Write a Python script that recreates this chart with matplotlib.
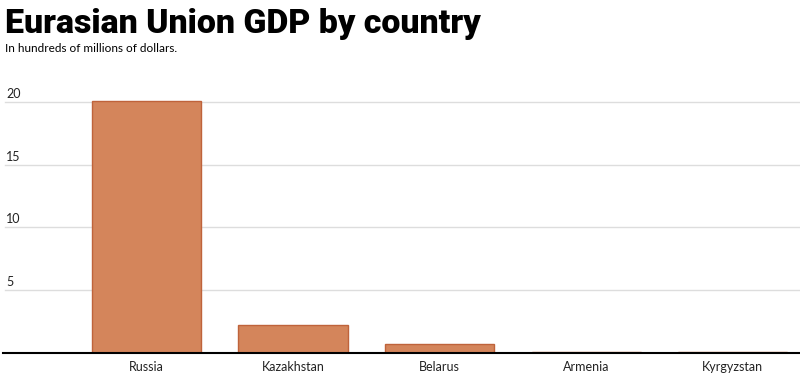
import matplotlib
matplotlib.use("Agg")
import matplotlib.pyplot as plt

countries = ["Russia", "Kazakhstan", "Belarus", "Armenia", "Kyrgyzstan"]
gdp = [20.1, 2.24, 0.72, 0.10, 0.07]
yticks = [5, 10, 15, 20]

fig = plt.figure(figsize=(8, 3.87), dpi=100)
ax = fig.add_axes([0.0, 0.0879, 1.0, 0.681])

x = list(range(len(countries)))
ax.bar(x, gdp, width=0.745, color="#d4855b", edgecolor="#bf633b", linewidth=1, zorder=3)

ax.set_xlim(-1.0, 4.46)
ax.set_ylim(0, 21)
for s in ax.spines.values():
    s.set_visible(False)
ax.set_yticks([])
ax.set_xticks([])

x0 = -1.0 + 5 / 146.5
for t in yticks:
    ax.plot([x0, 4.46], [t, t], color="#dddddd", lw=1, zorder=1)
    ax.annotate(str(t), xy=(x0 + 0.01, t), xytext=(0, 1.5), textcoords="offset points",
                ha="left", va="bottom", fontsize=9, family="Lato", color="#222222")
ax.plot([-1.0 + 3 / 146.5, 4.46], [0, 0], color="black", lw=1.5, zorder=4, clip_on=False)

for xi, c in zip(x, countries):
    ax.annotate(c, xy=(xi, 0), xytext=(0, -6), textcoords="offset points",
                ha="center", va="top", fontsize=9, family="Lato", color="#222222")

title = fig.text(0.006, 0.915, "Eurasian Union GDP by country", ha="left", va="baseline",
                 fontsize=27, fontweight="black", family="Roboto", color="black")
fig.canvas.draw()
w = title.get_window_extent().width
title.set_fontsize(27 * 476 / w)
fig.text(0.006, 0.875, "In hundreds of millions of dollars.", ha="left", va="center",
         fontsize=8.5, family="Lato", color="black")

fig.savefig("out.png", dpi=100)
